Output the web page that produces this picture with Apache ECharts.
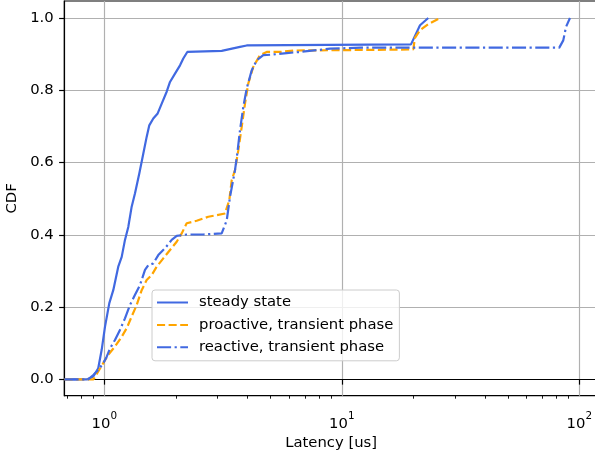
<!DOCTYPE html>
<html>
<head>
<meta charset="utf-8">
<script src="https://cdn.jsdelivr.net/npm/echarts@6/dist/echarts.min.js"></script>
<style>
html,body{margin:0;padding:0;background:#fff;}
#chart{width:595px;height:452px;}
</style>
</head>
<body>
<div id="chart"></div>
<script>
// ---- data ----
const seriesNames = ['steady state', 'proactive, transient phase', 'reactive, transient phase'];

const steadyLatency = [0.68, 0.843, 0.899, 0.943, 0.975, 1.007, 1.050, 1.091, 1.145, 1.184, 1.222, 1.262, 1.304, 1.347, 1.404, 1.460, 1.508, 1.547, 1.608, 1.678, 1.745, 1.831, 1.891, 1.985, 2.084, 2.151, 2.236, 3.121, 3.728, 3.978, 19.56, 21.35, 23.13];
const steadyCdf     = [0.0, 0.0, 0.008, 0.031, 0.082, 0.146, 0.211, 0.247, 0.312, 0.339, 0.386, 0.422, 0.478, 0.515, 0.570, 0.625, 0.671, 0.703, 0.722, 0.736, 0.763, 0.796, 0.823, 0.846, 0.869, 0.888, 0.906, 0.909, 0.920, 0.924, 0.927, 0.980, 1.0];

const proactiveLatency = [0.68, 0.90, 0.943, 0.990, 1.039, 1.109, 1.184, 1.243, 1.304, 1.369, 1.437, 1.508, 1.584, 1.662, 1.772, 1.891, 2.018, 2.118, 2.223, 2.449, 2.741, 3.223, 3.360, 3.439, 3.551, 3.667, 3.790, 3.913, 4.040, 4.241, 4.525, 4.828, 5.494, 6.249, 10.0, 19.56, 20.0, 20.33, 21.35, 23.13, 25.91];
const proactiveCdf     = [0.0, 0.0, 0.022, 0.045, 0.068, 0.091, 0.118, 0.142, 0.174, 0.206, 0.247, 0.275, 0.289, 0.312, 0.335, 0.358, 0.381, 0.404, 0.432, 0.439, 0.450, 0.459, 0.496, 0.551, 0.579, 0.634, 0.699, 0.763, 0.819, 0.865, 0.897, 0.906, 0.906, 0.910, 0.911, 0.913, 0.913, 0.945, 0.966, 0.983, 1.0];

const reactiveLatency = [0.68, 0.856, 0.899, 0.943, 0.990, 1.024, 1.057, 1.109, 1.164, 1.222, 1.283, 1.347, 1.413, 1.484, 1.532, 1.608, 1.688, 1.802, 1.922, 2.018, 2.223, 2.611, 3.121, 3.277, 3.383, 3.551, 3.631, 3.728, 3.849, 3.978, 4.175, 4.383, 4.672, 5.147, 5.861, 6.668, 8.921, 12.0, 82.38, 85.62, 87.90, 91.38];
const reactiveCdf     = [0.0, 0.0, 0.012, 0.026, 0.045, 0.063, 0.086, 0.109, 0.137, 0.169, 0.206, 0.234, 0.261, 0.303, 0.316, 0.321, 0.344, 0.363, 0.386, 0.397, 0.401, 0.401, 0.404, 0.440, 0.505, 0.579, 0.625, 0.690, 0.754, 0.805, 0.855, 0.883, 0.897, 0.899, 0.903, 0.906, 0.915, 0.918, 0.918, 0.938, 0.975, 1.0];

const xMajorTicks = [1, 10, 100];
const xMinorTicks = [0.7, 0.8, 0.9, 2, 3, 4, 5, 6, 7, 8, 9, 20, 30, 40, 50, 60, 70, 80, 90];
const yTicks = [0.0, 0.2, 0.4, 0.6, 0.8, 1.0];

// ---- build ----
const zip = (xs, ys) => xs.map((x, i) => [x, ys[i]]);
const FONT = 'DejaVu Sans';
const FS = 14.8;
const LW = 2.2;
const BLUE = '#4169E1';
const ORANGE = '#FFA500';

const chart = echarts.init(document.getElementById('chart'), null, {renderer: 'canvas'});

const xCommon = {
  type: 'log',
  logBase: 10,
  min: 0.6786,
  max: 119.9,
  gridIndex: 0,
};

chart.setOption({
  animation: false,
  backgroundColor: '#fff',
  grid: {
    left: 64.3, right: -3, top: 1, bottom: 56.3,
    containLabel: false, outerBoundsMode: 'none',
    show: true, borderColor: '#000', borderWidth: 1.18, backgroundColor: 'transparent'
  },
  xAxis: [
    Object.assign({}, xCommon, {
      position: 'bottom',
      name: 'Latency [us]',
      nameLocation: 'middle',
      nameGap: 36,
      nameTextStyle: {fontFamily: FONT, fontSize: FS, color: '#000'},
      axisLine: {show: true, lineStyle: {color: '#000', width: 1.18}},
      axisTick: {show: true, customValues: xMajorTicks, length: 5.2, lineStyle: {color: '#000', width: 1.18}},
      axisLabel: {
        show: true, customValues: xMajorTicks, margin: 15.5,
        formatter: function (v) {
          const e = Math.round(Math.log10(v));
          return '{b|10}{s|' + e + '}';
        },
        rich: {
          b: {fontFamily: FONT, fontSize: FS, color: '#000', lineHeight: 20, verticalAlign: 'bottom'},
          s: {fontFamily: FONT, fontSize: 10.4, color: '#000', lineHeight: 12, verticalAlign: 'top'}
        }
      },
      splitLine: {show: true, lineStyle: {color: '#b0b0b0', width: 1.18}},
      minorTick: {show: false},
      minorSplitLine: {show: false}
    }),
    Object.assign({}, xCommon, {
      position: 'bottom',
      axisLine: {show: false},
      axisTick: {show: true, customValues: xMinorTicks, length: 3, lineStyle: {color: '#000', width: 0.9}},
      axisLabel: {show: false},
      splitLine: {show: false}
    })
  ],
  yAxis: {
    type: 'value',
    min: -0.045,
    max: 1.047,
    name: 'CDF',
    nameLocation: 'middle',
    nameGap: 40,
    nameTextStyle: {fontFamily: FONT, fontSize: FS, color: '#000'},
    axisLine: {show: true, lineStyle: {color: '#000', width: 1.18}},
    axisTick: {show: true, customValues: yTicks, length: 5.2, lineStyle: {color: '#000', width: 1.18}},
    axisLabel: {
      show: true, customValues: yTicks, margin: 10.6,
      fontFamily: FONT, fontSize: FS, color: '#000',
      formatter: v => v.toFixed(1)
    },
    splitLine: {show: true, lineStyle: {color: '#b0b0b0', width: 1.18}}
  },
  legend: {
    show: true,
    orient: 'vertical',
    left: 152,
    top: 290,
    padding: [5, 6, 6, 4],
    itemGap: 7.4,
    itemWidth: 31,
    itemHeight: 14,
    itemStyle: {opacity: 0},
    backgroundColor: 'rgba(255,255,255,0.8)',
    borderColor: '#cccccc',
    borderWidth: 1,
    borderRadius: 3,
    textStyle: {fontFamily: FONT, fontSize: FS, color: '#000', padding: [0, 0, 0, 6]},
    data: seriesNames
  },
  series: [
    {
      name: seriesNames[0], type: 'line', xAxisIndex: 0, symbol: 'none', showSymbol: false,
      data: zip(steadyLatency, steadyCdf),
      lineStyle: {color: BLUE, width: LW, type: 'solid'},
      itemStyle: {color: BLUE}, z: 3
    },
    {
      name: seriesNames[1], type: 'line', xAxisIndex: 0, symbol: 'none', showSymbol: false,
      data: zip(proactiveLatency, proactiveCdf),
      lineStyle: {color: ORANGE, width: LW, type: [8.1, 3.5], cap: 'butt'},
      itemStyle: {color: ORANGE}, z: 4
    },
    {
      name: seriesNames[2], type: 'line', xAxisIndex: 0, symbol: 'none', showSymbol: false,
      data: zip(reactiveLatency, reactiveCdf),
      lineStyle: {color: BLUE, width: LW, type: [14.1, 3.5, 2.2, 3.5], cap: 'butt'},
      itemStyle: {color: BLUE}, z: 5
    }
  ]
});
</script>
</body>
</html>
